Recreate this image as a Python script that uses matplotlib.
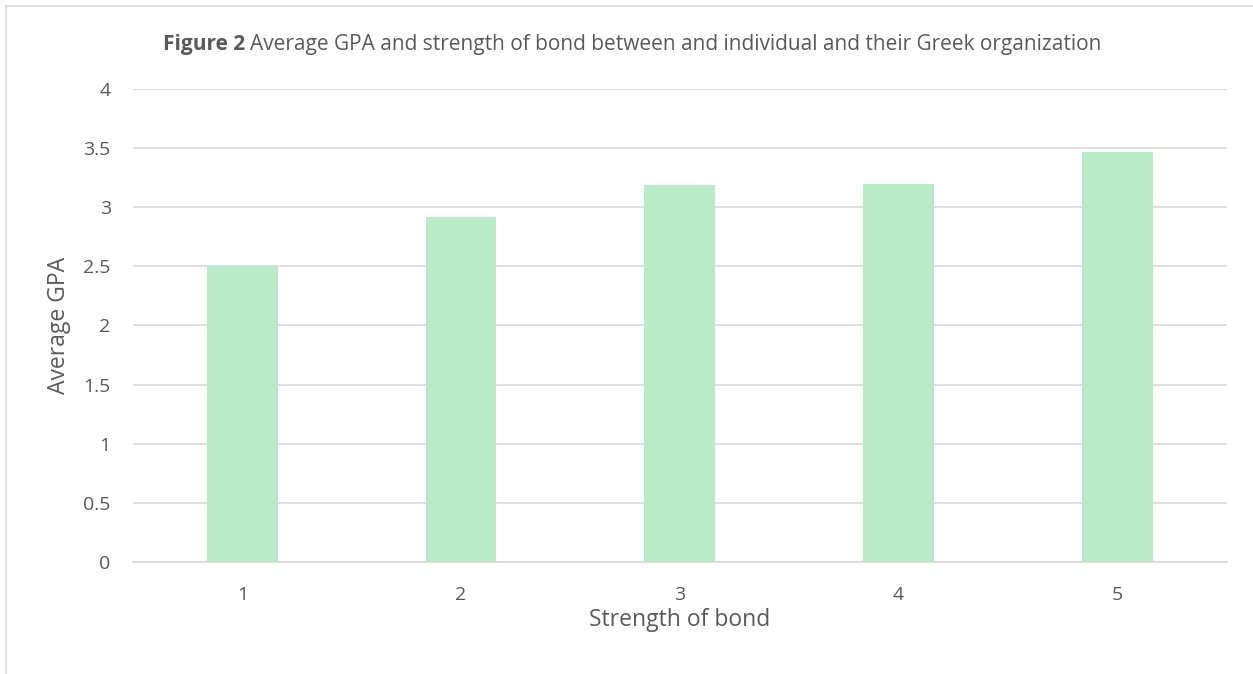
import matplotlib.pyplot as plt
from matplotlib.patches import Rectangle
from matplotlib.transforms import offset_copy

plt.rcParams['font.family'] = ['Open Sans', 'DejaVu Sans']

strength = ['1', '2', '3', '4', '5']
avg_gpa = [2.50, 2.915, 3.19, 3.195, 3.47]
yticks = [0, 0.5, 1, 1.5, 2, 2.5, 3, 3.5, 4]
ytick_labels = ['0', '0.5', '1', '1.5', '2', '2.5', '3', '3.5', '4']

text_col = '#595959'
grid_col = '#d9d9d9'

fig = plt.figure(figsize=(12.53, 6.74), dpi=100)
ax = fig.add_axes([0.1061, 0.1662, 0.8729, 0.7018])

x = list(range(1, len(strength) + 1))
ax.bar(x, avg_gpa, width=0.323, color='#baebc9', zorder=3)

ax.set_xlim(0.5, 5.5)
ax.set_ylim(0, 4)
ax.set_yticks(yticks)
ax.set_yticklabels(ytick_labels)
ax.set_xticks(x)
ax.set_xticklabels(strength)
ax.tick_params(length=0, labelsize=14, labelcolor=text_col)
ax.tick_params(axis='y', pad=16)
ax.tick_params(axis='x', pad=17.5)
ax.yaxis.grid(True, color=grid_col, linewidth=1.2, zorder=0)
for s in ['top', 'right', 'left']:
    ax.spines[s].set_visible(False)
ax.spines['bottom'].set_color(grid_col)
ax.spines['bottom'].set_linewidth(1.2)

ax.set_xlabel('Strength of bond', fontsize=16.5, color=text_col, labelpad=2.5)
ax.set_ylabel('Average GPA', fontsize=16.5, color=text_col, labelpad=9)

# title: bold "Figure 2" followed by the regular caption
t1 = fig.text(0.1300, 0.934, 'Figure 2', fontsize=15, fontweight='bold', color=text_col, va='center')
fig.canvas.draw()
w = t1.get_window_extent().width
fig.text(0.1300, 0.934, 'Average GPA and strength of bond between and individual and their Greek organization',
         fontsize=15, color=text_col, va='center',
         transform=offset_copy(fig.transFigure, fig=fig, x=w + 5, units='dots'))

# chart frame (right and bottom edges fall outside the image)
fig.patches.append(Rectangle((0.005, -0.1), 1.2, 1.091, transform=fig.transFigure,
                             fill=False, edgecolor='#d9d9d9', linewidth=1.2))

fig.savefig('out.png', dpi=100)
